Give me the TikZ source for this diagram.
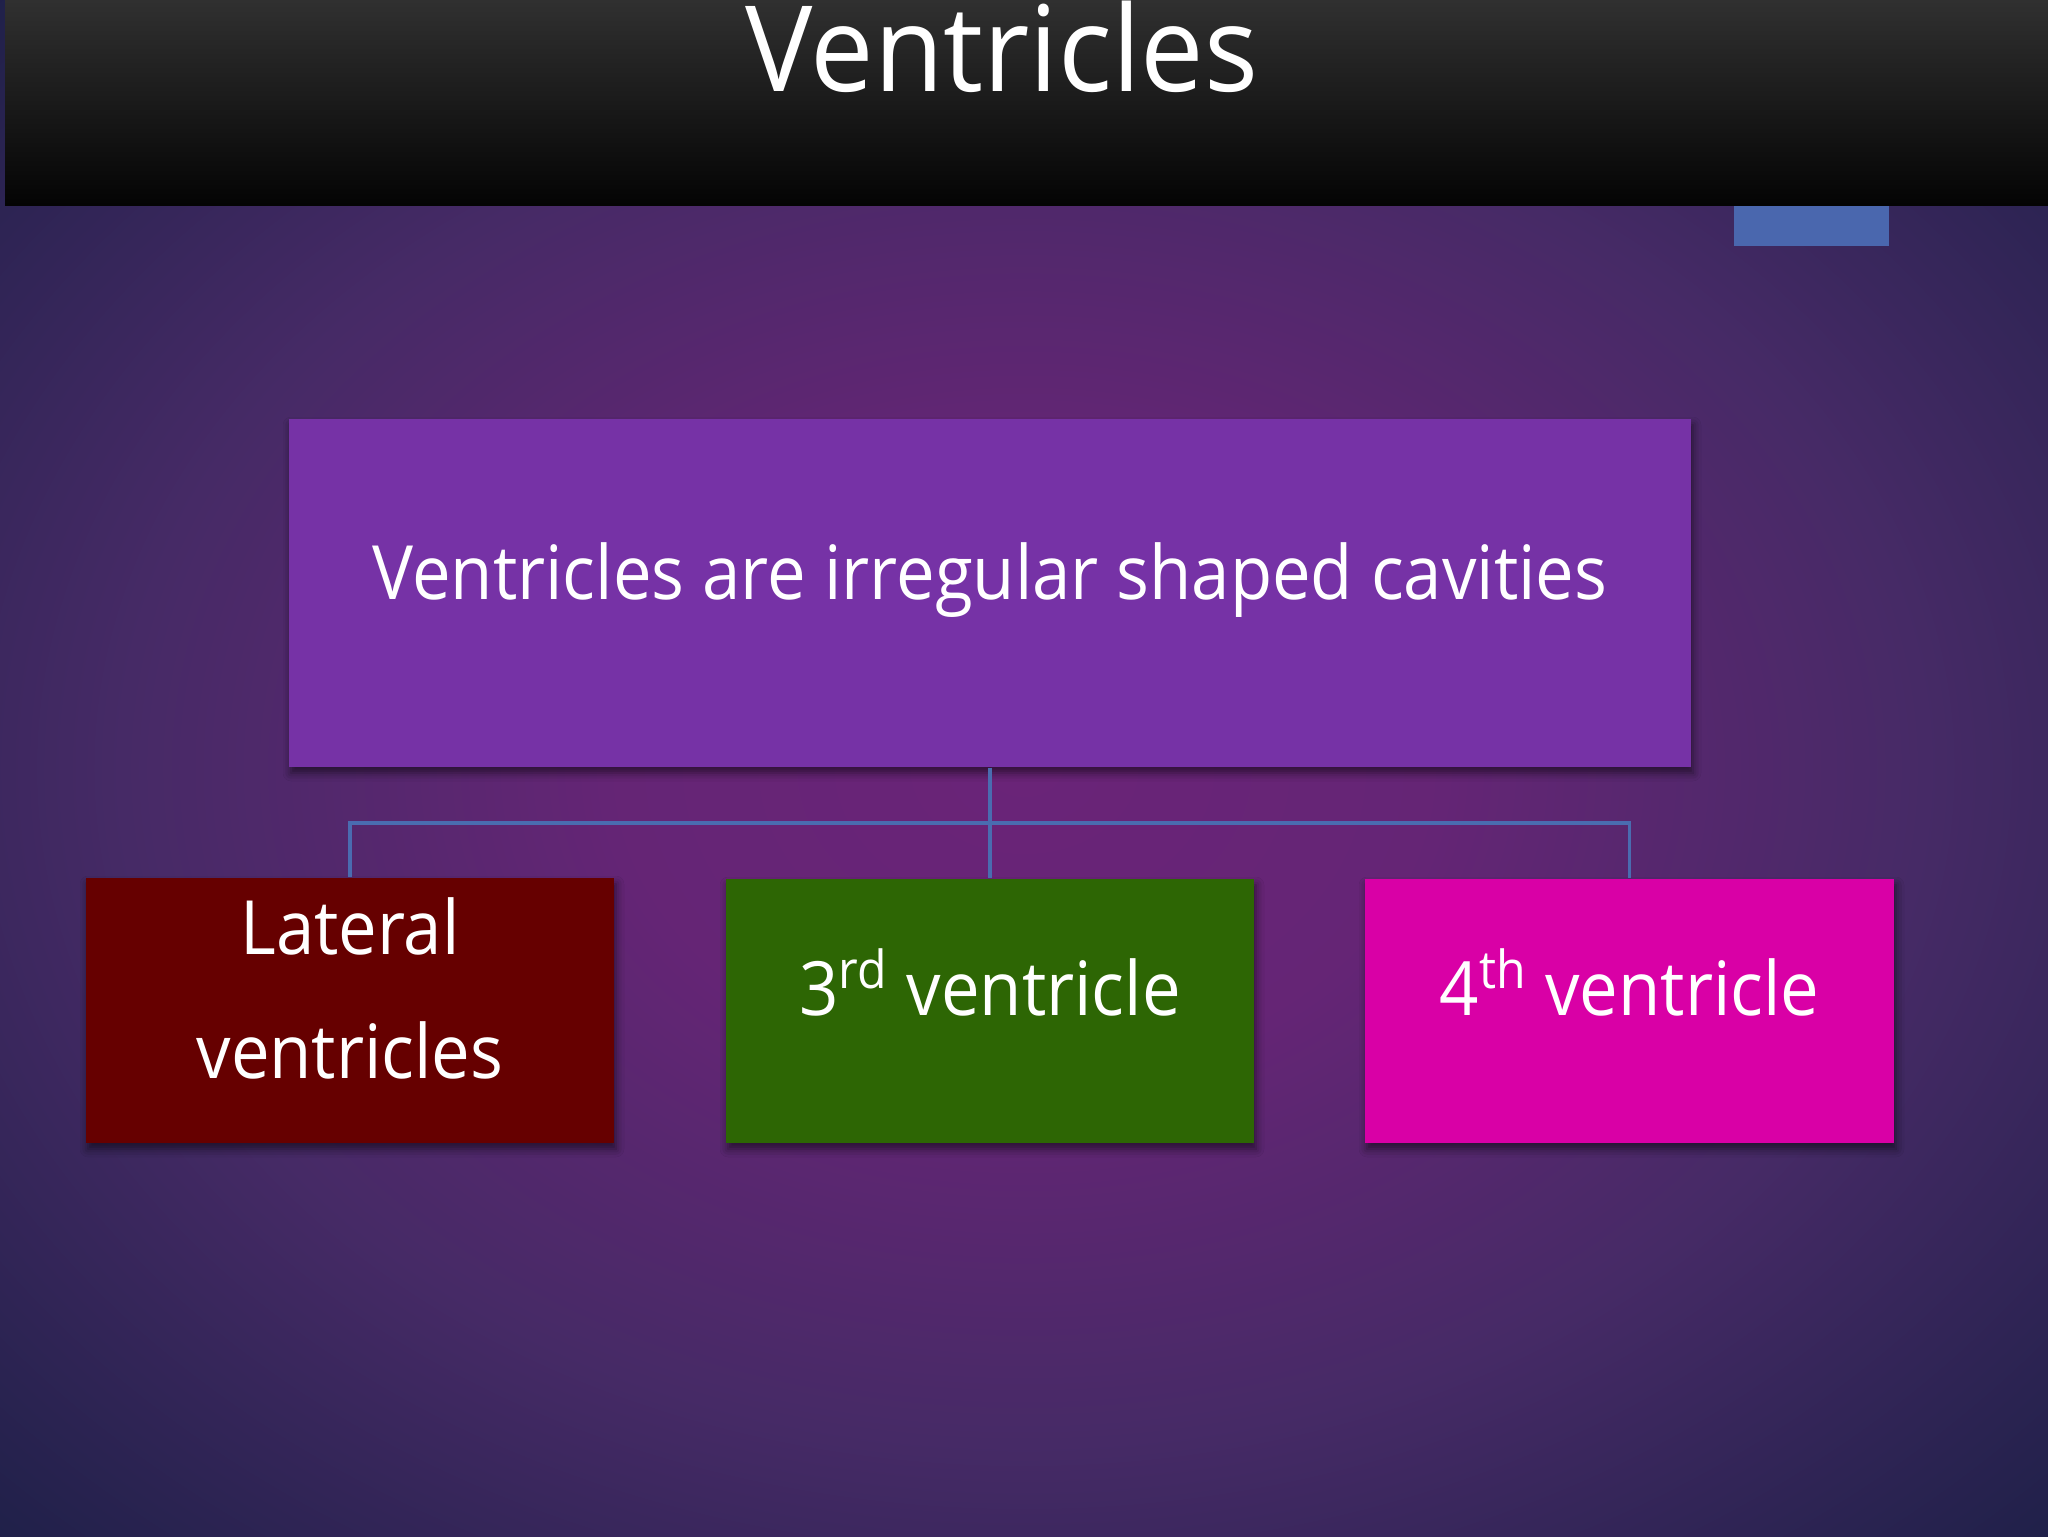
\documentclass[tikz,border=0pt]{standalone}
\usepackage{fontspec}
\setmainfont[FakeStretch=0.92]{Open Sans}
\newfontfamily\titlefont[FakeStretch=0.95]{Open Sans}
\usetikzlibrary{shadows.blur}

\definecolor{bgcore}{HTML}{6A2478}
\definecolor{bgmid}{HTML}{462A66}
\definecolor{bgedge}{HTML}{1E2048}
\definecolor{bartop}{HTML}{303030}
\definecolor{barbot}{HTML}{040404}
\definecolor{tabblue}{HTML}{4A67AE}
\definecolor{linkblue}{HTML}{4A6CB0}
\definecolor{topfill}{HTML}{7632A6}
\definecolor{latfill}{HTML}{660000}
\definecolor{thirdfill}{HTML}{2D6604}
\definecolor{fourthfill}{HTML}{D900A6}

\pgfdeclareradialshading{slidebg}{\pgfpoint{0bp}{0bp}}{%
  color(0bp)=(bgcore); color(10bp)=(bgcore!85!bgmid); color(22bp)=(bgmid);
  color(36bp)=(bgedge); color(50bp)=(bgedge)}

\tikzset{
  box/.style={rectangle, inner sep=0pt, draw=none,
    blur shadow={shadow xshift=0.2mm, shadow yshift=-0.6mm,
      shadow blur radius=0.8mm, shadow opacity=55}},
  txt/.style={text=white, inner sep=0pt, anchor=base,
    font=\fontsize{21.3}{35.3}\selectfont},
  link/.style={draw=linkblue, line width=0.9pt}
}

\begin{document}
\begin{tikzpicture}[x=0.1mm, y=-0.1mm]
    \useasboundingbox (0,0) rectangle (2048,1536);
    \shade[shading=slidebg] (0,0) rectangle (2048,1536);

    % title bar
    \shade[top color=bartop, bottom color=barbot] (5,0) rectangle (2048,205);
    \fill[tabblue] (1734,206) rectangle (1889,246);
    \node[txt, font=\titlefont\fontsize{33.9}{40}\selectfont](title) at (1002,91) {Ventricles};

    \draw
    (990, 593) node[box, fill=topfill, minimum width=140.2mm, minimum height=34.8mm](top){}
    (350, 1010.5) node[box, fill=latfill, minimum width=52.8mm, minimum height=26.5mm](lat){}
    (990, 1011) node[box, fill=thirdfill, minimum width=52.8mm, minimum height=26.4mm](third){}
    (1629.5, 1011) node[box, fill=fourthfill, minimum width=52.9mm, minimum height=26.4mm](fourth){};

    \coordinate (hub) at (990, 823);

    \draw[link] (top.south) -- (hub);
    \draw[link] (hub) -| (lat.north);
    \draw[link] (hub) -- (third.north);
    \draw[link] (hub) -| (fourth.north);

    \node[txt](toptext) at (990, 599) {Ventricles are irregular shaped cavities};
    \node[txt, anchor=center, align=center](lattext) at (350, 988) {Lateral\\ventricles};
    \node[txt](thirdtext) at (990, 1015) {3\textsuperscript{rd} ventricle};
    \node[txt](fourthtext) at (1629.5, 1015) {4\textsuperscript{th} ventricle};

  \end{tikzpicture}
\end{document}
